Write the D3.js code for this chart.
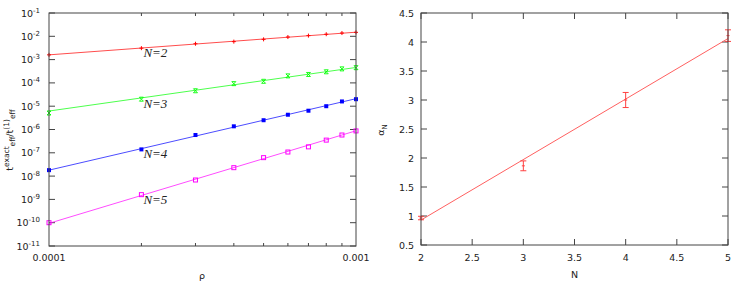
<html>
<script src="https://d3js.org/d3.v7.min.js"></script>
<style>
body { margin: 0; background: #fff; }
text { font-family: "DejaVu Sans", sans-serif; font-size: 9.5px; fill: #222; }
.frame { fill: none; stroke: #444; stroke-width: 1; }
.lbl { font-family: "Liberation Serif", serif; font-style: italic; font-size: 13px; fill: #222; }
</style>
<body>
<svg class="chart" width="745" height="282"></svg>
<script>
// left panel: ratio vs rho for N=2..5
const rho = [1e-4, 2e-4, 3e-4, 4e-4, 5e-4, 6e-4, 7e-4, 8e-4, 9e-4, 1e-3];
const ratioN2 = [1.6e-3, 3.1e-3, 4.8e-3, 5.9e-3, 7.4e-3, 9.3e-3, 1.07e-2, 1.23e-2, 1.38e-2, 1.48e-2];
const ratioN3 = [5.1e-6, 2.0e-5, 4.6e-5, 9.3e-5, 1.17e-4, 2.0e-4, 2.3e-4, 3.0e-4, 4.0e-4, 4.5e-4];
const ratioN4 = [1.8e-8, 1.4e-7, 5.8e-7, 1.37e-6, 2.5e-6, 4.3e-6, 6.4e-6, 1.0e-5, 1.6e-5, 2.0e-5];
const ratioN5 = [1.0e-10, 1.6e-9, 6.8e-9, 2.3e-8, 6.2e-8, 1.08e-7, 1.8e-7, 3.5e-7, 5.8e-7, 8.7e-7];
// fitted power laws, value at rho=1e-4 and rho=1e-3
const fitN2 = [1.6e-3, 1.5e-2];
const fitN3 = [6.2e-6, 4.6e-4];
const fitN4 = [1.8e-8, 2.1e-5];
const fitN5 = [9.4e-11, 8.8e-7];
const seriesNames = ["N=2", "N=3", "N=4", "N=5"];
const yExpTicks = [-1, -2, -3, -4, -5, -6, -7, -8, -9, -10, -11];
const xMinorTicks = [2e-4, 3e-4, 4e-4, 5e-4, 6e-4, 7e-4, 8e-4, 9e-4];

// right panel: alpha_N vs N
const nVals = [2, 3, 4, 5];
const alphaN = [0.965, 1.865, 3.0, 4.11];
const alphaErr = [0.03, 0.085, 0.13, 0.1];
const alphaFit = [0.93, 4.06];
const nTicks = [2, 2.5, 3, 3.5, 4, 4.5, 5];
const aTicks = [0.5, 1, 1.5, 2, 2.5, 3, 3.5, 4, 4.5];

const svg = d3.select(".chart");

// ---------- left ----------
const L = {x0: 49, x1: 356, y0: 13, y1: 246};
const xL = d3.scaleLog().domain([1e-4, 1e-3]).range([L.x0, L.x1]);
const yL = d3.scaleLog().domain([1e-11, 1e-1]).range([L.y1, L.y0]);

const gl = svg.append("g");

// major ticks inside, mirrored
yExpTicks.forEach(e => {
  const y = yL(Math.pow(10, e));
  gl.append("line").attr("x1", L.x0).attr("x2", L.x0 + 6).attr("y1", y).attr("y2", y).attr("stroke", "#444");
  gl.append("line").attr("x1", L.x1).attr("x2", L.x1 - 6).attr("y1", y).attr("y2", y).attr("stroke", "#444");
  const t = gl.append("text").attr("x", 40).attr("y", y + 3.5).attr("text-anchor", "end");
  t.append("tspan").text("10");
  t.append("tspan").attr("dy", -4).attr("font-size", "7px").text("-" + Math.abs(e));
});
xMinorTicks.forEach(v => {
  const x = xL(v);
  gl.append("line").attr("x1", x).attr("x2", x).attr("y1", L.y0).attr("y2", L.y0 + 3).attr("stroke", "#444");
  gl.append("line").attr("x1", x).attr("x2", x).attr("y1", L.y1).attr("y2", L.y1 - 3).attr("stroke", "#444");
});
gl.append("text").attr("x", xL(1e-4)).attr("y", 261).attr("text-anchor", "middle").text("0.0001");
gl.append("text").attr("x", xL(1e-3)).attr("y", 261).attr("text-anchor", "middle").text("0.001");

const colors = ["#ff0000", "#00ff00", "#0000ff", "#ff00ff"];
const data = [ratioN2, ratioN3, ratioN4, ratioN5];
const fits = [fitN2, fitN3, fitN4, fitN5];
const line = d3.line().x(d => xL(d[0])).y(d => yL(d[1]));

fits.forEach((f, i) => {
  gl.append("path").attr("d", line([[1e-4, f[0]], [1e-3, f[1]]]))
    .attr("fill", "none").attr("stroke", colors[i]).attr("stroke-opacity", 0.7).attr("stroke-width", 1);
});

function marker(g, type, x, y, c) {
  const s = 2;
  if (type === 0) {
    g.append("path").attr("d", `M${x - s},${y}H${x + s}M${x},${y - s}V${y + s}`).attr("stroke", c);
  }
  if (type === 1) {
    g.append("path").attr("d", `M${x - s},${y - s}L${x + s},${y + s}M${x - s},${y + s}L${x + s},${y - s}M${x - s},${y - s}H${x + s}M${x - s},${y + s}H${x + s}`)
      .attr("stroke", c).attr("stroke-width", 0.9);
  }
  if (type === 2) {
    g.append("rect").attr("x", x - s).attr("y", y - s).attr("width", 2 * s).attr("height", 2 * s).attr("fill", c);
  }
  if (type === 3) {
    g.append("rect").attr("x", x - s).attr("y", y - s).attr("width", 2 * s).attr("height", 2 * s)
      .attr("fill", "none").attr("stroke", c);
  }
}
data.forEach((ser, i) => {
  ser.forEach((v, j) => marker(gl, i, xL(rho[j]), yL(v), colors[i]));
});

gl.append("rect").attr("class", "frame").attr("x", L.x0).attr("y", L.y0)
  .attr("width", L.x1 - L.x0).attr("height", L.y1 - L.y0);

// series labels
const labelPos = [ratioN2[1], ratioN3[1], ratioN4[1], ratioN5[1]];
seriesNames.forEach((n, i) => {
  gl.append("text").attr("class", "lbl").attr("x", xL(2e-4) + 2).attr("y", yL(labelPos[i]) + 9).text(n);
});

gl.append("text").attr("x", 202).attr("y", 279).attr("text-anchor", "middle").text("ρ");

const yl = gl.append("text").attr("transform", "translate(13,140) rotate(-90)").attr("text-anchor", "middle");
yl.append("tspan").text("t");
yl.append("tspan").attr("dy", -4).attr("font-size", "7.5px").text("exact");
yl.append("tspan").attr("dy", 6).attr("font-size", "7.5px").text("eff");
yl.append("tspan").attr("dy", -2).text("/t");
yl.append("tspan").attr("dy", -4).attr("font-size", "7.5px").text("(1)");
yl.append("tspan").attr("dy", 6).attr("font-size", "7.5px").text("eff");

// ---------- right ----------
const R = {x0: 421, x1: 728, y0: 13, y1: 245};
const xR = d3.scaleLinear().domain([2, 5]).range([R.x0, R.x1]);
const yR = d3.scaleLinear().domain([0.5, 4.5]).range([R.y1, R.y0]);
const gr = svg.append("g");

nTicks.forEach(v => {
  const x = xR(v);
  gr.append("line").attr("x1", x).attr("x2", x).attr("y1", R.y1).attr("y2", R.y1 - 6).attr("stroke", "#444");
  gr.append("line").attr("x1", x).attr("x2", x).attr("y1", R.y0).attr("y2", R.y0 + 6).attr("stroke", "#444");
  gr.append("text").attr("x", x).attr("y", 261).attr("text-anchor", "middle").text(d3.format("~g")(v));
});
aTicks.forEach(v => {
  const y = yR(v);
  gr.append("line").attr("x1", R.x0).attr("x2", R.x0 + 6).attr("y1", y).attr("y2", y).attr("stroke", "#444");
  gr.append("line").attr("x1", R.x1).attr("x2", R.x1 - 6).attr("y1", y).attr("y2", y).attr("stroke", "#444");
  gr.append("text").attr("x", 414).attr("y", y + 3.5).attr("text-anchor", "end").text(d3.format("~g")(v));
});

gr.append("path").attr("d", d3.line().x(d => xR(d[0])).y(d => yR(d[1]))([[2, alphaFit[0]], [5, alphaFit[1]]]))
  .attr("fill", "none").attr("stroke", "#ff6060").attr("stroke-width", 1);

nVals.forEach((n, i) => {
  const x = xR(n), yt = yR(alphaN[i] + alphaErr[i]), yb = yR(alphaN[i] - alphaErr[i]), y = yR(alphaN[i]);
  gr.append("path").attr("d", `M${x},${yt}V${yb}M${x - 3},${yt}H${x + 3}M${x - 3},${yb}H${x + 3}M${x - 1.5},${y}H${x + 1.5}`)
    .attr("stroke", "#ff4040").attr("fill", "none");
});

gr.append("rect").attr("class", "frame").attr("x", R.x0).attr("y", R.y0)
  .attr("width", R.x1 - R.x0).attr("height", R.y1 - R.y0);

gr.append("text").attr("x", xR(3.5)).attr("y", 278).attr("text-anchor", "middle").text("N");
const al = gr.append("text").attr("transform", "translate(384,130) rotate(-90)").attr("text-anchor", "middle");
al.append("tspan").text("α");
al.append("tspan").attr("dy", 3).attr("font-size", "7px").text("N");
</script>
</body>
</html>
